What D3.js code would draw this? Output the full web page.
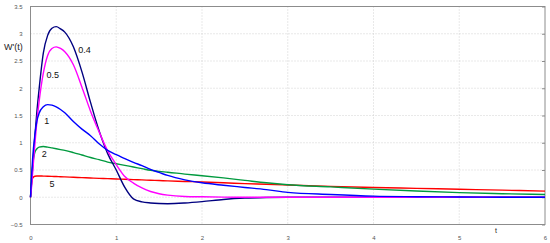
<!DOCTYPE html>
<html>
<head>
<meta charset="utf-8">
<script src="https://cdn.jsdelivr.net/npm/d3@7"></script>
<style>
  body { margin: 0; background: #fff; }
  svg { display: block; font-family: "Liberation Sans", Arial, sans-serif; }
</style>
</head>
<body>
<svg id="chart" width="550" height="243"></svg>
<script>
// ----------------------
// data
// ----------------------
const tValues = [0, 0.01, 0.025, 0.05, 0.075, 0.1, 0.15, 0.2, 0.25, 0.3, 0.35, 0.4, 0.5, 0.6, 0.7, 0.8, 0.9,
                 1.0, 1.1, 1.2, 1.3, 1.4, 1.5, 1.6, 1.8, 2.0, 2.25, 2.5, 2.75, 3.0, 3.5, 4.0, 4.5, 5.0, 5.5, 6.0];

const w04 = [0, 0.2, 0.55, 1.1, 1.58, 1.98, 2.65, 2.97, 3.1, 3.13, 3.09, 3.03, 2.76, 2.3, 1.74, 1.22, 0.80,
             0.5, 0.18, -0.03, -0.085, -0.105, -0.115, -0.118, -0.105, -0.08, -0.04, -0.015, -0.004, 0, 0, 0, 0, 0, 0, 0];

const w05 = [0, 0.15, 0.45, 0.95, 1.4, 1.75, 2.28, 2.6, 2.73, 2.76, 2.73, 2.67, 2.43, 2.02, 1.58, 1.2, 0.85,
             0.6, 0.38, 0.26, 0.17, 0.105, 0.065, 0.04, 0.015, 0.008, 0.003, 0, 0, 0, 0, 0, 0, 0, 0, 0];

const w1 = [0, 0.32, 0.72, 1.13, 1.4, 1.54, 1.66, 1.70, 1.69, 1.66, 1.61, 1.55, 1.39, 1.25, 1.13, 0.98, 0.86,
            0.78, 0.71, 0.64, 0.58, 0.51, 0.455, 0.40, 0.32, 0.265, 0.22, 0.18, 0.14, 0.09, 0.05, 0.02, 0.01, 0.004, 0.001, 0];

const w2 = [0, 0.28, 0.58, 0.82, 0.89, 0.92, 0.93, 0.92, 0.905, 0.89, 0.875, 0.86, 0.82, 0.775, 0.73, 0.69, 0.645,
            0.615, 0.585, 0.555, 0.525, 0.495, 0.475, 0.46, 0.425, 0.395, 0.355, 0.31, 0.265, 0.23, 0.19, 0.15, 0.115, 0.085, 0.065, 0.05];

const w5 = [0, 0.22, 0.35, 0.385, 0.39, 0.39, 0.388, 0.386, 0.383, 0.38, 0.377, 0.374, 0.367, 0.36, 0.353, 0.347, 0.341,
            0.335, 0.33, 0.324, 0.318, 0.312, 0.306, 0.30, 0.29, 0.28, 0.265, 0.25, 0.238, 0.225, 0.2, 0.18, 0.163, 0.147, 0.13, 0.112];

const seriesNames = ["0.4", "0.5", "1", "2", "5"];
const seriesColors = ["#000080", "#ff00ff", "#0000ff", "#009a3e", "#ff0000"];
const seriesValues = [w04, w05, w1, w2, w5];

const xTicks = [0, 1, 2, 3, 4, 5, 6];
const yTicks = [-0.5, 0, 0.5, 1, 1.5, 2, 2.5, 3, 3.5];

// ----------------------
// layout
// ----------------------
const svg = d3.select("#chart");
const plotLeft = 30.5, plotRight = 545, plotTop = 6.5, plotBottom = 224.5;

const x = d3.scaleLinear().domain([0, 6]).range([plotLeft, plotRight]);
const y = d3.scaleLinear().domain([-0.5, 3.5]).range([plotBottom, plotTop]);

// grid
const grid = svg.append("g")
    .attr("stroke", "#c8c8c8")
    .attr("stroke-width", 0.8)
    .attr("stroke-dasharray", "1,2");

grid.selectAll("line.gx")
    .data(xTicks.filter(d => d > 0 && d < 6))
    .join("line")
    .attr("class", "gx")
    .attr("x1", d => x(d)).attr("x2", d => x(d))
    .attr("y1", plotTop).attr("y2", plotBottom);

grid.selectAll("line.gy")
    .data(yTicks.filter(d => d > -0.5 && d < 3.5))
    .join("line")
    .attr("class", "gy")
    .attr("x1", plotLeft).attr("x2", plotRight)
    .attr("y1", d => y(d)).attr("y2", d => y(d));

// frame
svg.append("rect")
    .attr("x", plotLeft).attr("y", plotTop)
    .attr("width", plotRight - plotLeft).attr("height", plotBottom - plotTop)
    .attr("fill", "none")
    .attr("stroke", "#8c8c8c")
    .attr("stroke-width", 1);

// axes (labels only, small inner ticks on the right side)
const yAxis = d3.axisLeft(y).tickValues(yTicks).tickSize(0).tickPadding(8)
    .tickFormat(d => d3.format("")(d));
svg.append("g")
    .attr("transform", `translate(${plotLeft},0)`)
    .call(yAxis)
    .call(g => g.select(".domain").remove())
    .call(g => g.selectAll("text").attr("fill", "#555").style("font-size", "6px"));

const xAxis = d3.axisBottom(x).tickValues(xTicks).tickSize(0).tickPadding(11)
    .tickFormat(d3.format("d"));
svg.append("g")
    .attr("transform", `translate(0,${plotBottom})`)
    .call(xAxis)
    .call(g => g.select(".domain").remove())
    .call(g => g.selectAll("text").attr("fill", "#555").style("font-size", "6px"));

svg.append("g")
    .attr("transform", `translate(${plotRight},0)`)
    .call(d3.axisLeft(y).tickValues(yTicks).tickSize(3).tickFormat(""))
    .call(g => g.select(".domain").remove())
    .call(g => g.selectAll("line").attr("stroke", "#8c8c8c"));

// ----------------------
// curves
// ----------------------
const line = d3.line()
    .x(d => x(d[0]))
    .y(d => y(d[1]))
    .curve(d3.curveMonotoneX);

const drawOrder = [4, 3, 0, 1, 2];
drawOrder.forEach(i => {
    const pts = tValues.map((t, k) => [t, seriesValues[i][k]]);
    svg.append("path")
        .datum(pts)
        .attr("fill", "none")
        .attr("stroke", seriesColors[i])
        .attr("stroke-width", 1.4)
        .attr("d", line);
});

// curve labels
const labelPos = [[0.63, 2.7], [0.26, 2.25], [0.19, 1.4], [0.16, 0.79], [0.25, 0.25]];
svg.append("g")
    .selectAll("text")
    .data(seriesNames)
    .join("text")
    .attr("x", (d, i) => x(labelPos[i][0]))
    .attr("y", (d, i) => y(labelPos[i][1]))
    .attr("text-anchor", "middle")
    .attr("dy", "0.35em")
    .attr("fill", "#111")
    .style("font-size", "9px")
    .text(d => d);

// axis titles
svg.append("text")
    .attr("x", 4).attr("y", 47)
    .attr("dy", "0.35em")
    .attr("fill", "#222")
    .style("font-size", "9px")
    .text("W'(t)");

svg.append("text")
    .attr("x", 496).attr("y", 231)
    .attr("dy", "0.35em")
    .attr("text-anchor", "middle")
    .attr("fill", "#222")
    .style("font-size", "7px")
    .text("t");
</script>
</body>
</html>
